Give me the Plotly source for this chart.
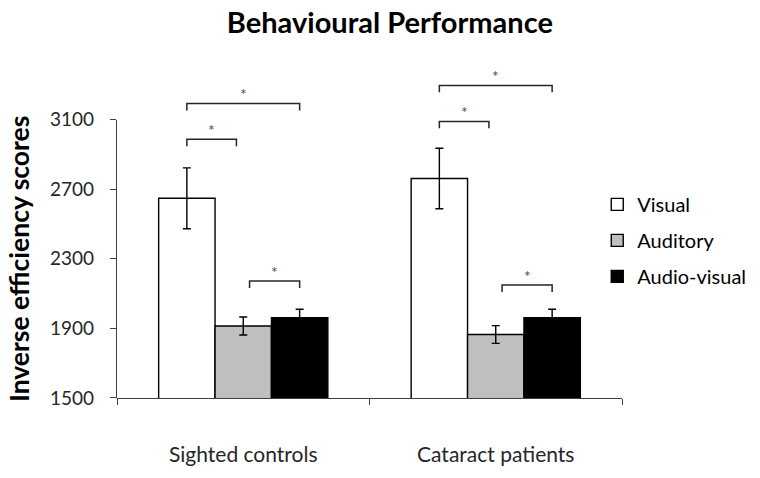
import plotly.graph_objects as go

categories = ["Sighted controls", "Cataract patients"]
series_names = ["Visual", "Auditory", "Audio-visual"]
visual = [2648, 2762]
visual_err = [175, 174]
auditory = [1914, 1865]
auditory_err = [52, 51]
audiovisual = [1962, 1962]
audiovisual_err = [48, 48]
y_ticks = [1500, 1900, 2300, 2700, 3100]

# significance brackets: (group index, series from, series to, bracket level)
brackets = [
    (0, 0, 2, 3193), (0, 0, 1, 2987), (0, 1, 2, 2173),
    (1, 0, 2, 3297), (1, 0, 1, 3090), (1, 1, 2, 2149),
]

colors = ["#FFFFFF", "#BFBFBF", "#000000"]
values = [visual, auditory, audiovisual]
errors = [visual_err, auditory_err, audiovisual_err]

FONT = "Lato, 'Open Sans', sans-serif"
BARGAP = 0.33
bar_w = (1 - BARGAP) / 3
Y_MIN, Y_TOP, Y_AX_MAX = 1500, 3420, 3100

fig = go.Figure()
for i, name in enumerate(series_names):
    fig.add_trace(go.Bar(
        name=name, x=categories, y=values[i],
        marker=dict(color=colors[i], line=dict(color="#000000", width=1.4)),
        error_y=dict(type="data", array=errors[i], visible=True,
                     color="#000000", thickness=1.4, width=4),
        legendgroup=name,
    ))

shapes = []
annotations = []
leg = 40
for g, a, b, lvl in brackets:
    xa = g + (a - 1) * bar_w
    xb = g + (b - 1) * bar_w
    if b - a == 1 and a == 0:
        xb -= 0.027
    if b - a == 1 and a == 1:
        xa += 0.025
    shapes.append(dict(
        type="path", xref="x", yref="y",
        path=f"M {xa},{lvl - leg} L {xa},{lvl} L {xb},{lvl} L {xb},{lvl - leg}",
        line=dict(color="#262626", width=1.5),
    ))
    annotations.append(dict(
        x=(xa + xb) / 2, y=lvl + 55, xref="x", yref="y", text="*",
        showarrow=False, font=dict(family=FONT, size=16, color="#505050"),
        yanchor="middle",
    ))

fig.update_layout(
    width=760, height=478,
    margin=dict(l=117, r=138, t=63.5, b=79.5, autoexpand=False),
    paper_bgcolor="white", plot_bgcolor="rgba(0,0,0,0)",
    barmode="group", bargap=BARGAP, bargroupgap=0,
    font=dict(family=FONT, color="#262626"),
    title=dict(text="<b>Behavioural Performance</b>", x=0.513, xref="container",
               y=1 - 23 / 478, yref="container", xanchor="center", yanchor="middle",
               font=dict(family=FONT, size=29, color="#000000")),
    showlegend=True,
    legend=dict(x=0.951, xanchor="left", y=0.638, yanchor="top",
                traceorder="grouped", tracegroupgap=7,
                font=dict(family=FONT, size=20, color="#000000"),
                bgcolor="rgba(0,0,0,0)"),
    xaxis=dict(type="category", range=[-0.5, 1.5], tickson="boundaries",
               showline=True, linecolor="#404040", linewidth=1.3,
               ticks="outside", ticklen=6, tickcolor="#404040", tickwidth=1.3,
               showgrid=False, zeroline=False, ticklabelstandoff=38, automargin=False,
               tickfont=dict(family=FONT, size=21, color="#262626")),
    yaxis=dict(range=[Y_MIN, Y_TOP], visible=False, showgrid=False, zeroline=False),
    yaxis2=dict(range=[Y_MIN, Y_AX_MAX], anchor="x", side="left",
                domain=[0, (Y_AX_MAX - Y_MIN) / (Y_TOP - Y_MIN)],
                tickvals=y_ticks, ticktext=[str(t) for t in y_ticks],
                showline=True, linecolor="#404040", linewidth=1.3,
                ticks="outside", ticklen=6, tickcolor="#404040", tickwidth=1.3,
                showgrid=False, zeroline=False, ticklabelstandoff=12, automargin=False,
                tickfont=dict(family=FONT, size=19, color="#262626"),
                title=dict(text="<b>Inverse efficiency scores</b>", standoff=12,
                           font=dict(family=FONT, size=26.5, color="#000000"))),
    shapes=shapes, annotations=annotations,
)
# invisible helper so the second y axis is drawn
fig.add_trace(go.Scatter(x=[categories[0]], y=[Y_MIN], yaxis="y2", mode="markers",
                         marker=dict(opacity=0), showlegend=False, hoverinfo="skip"))

fig.write_html("out.html", config={"displayModeBar": False},
               post_script="document.body.style.margin='0';")
